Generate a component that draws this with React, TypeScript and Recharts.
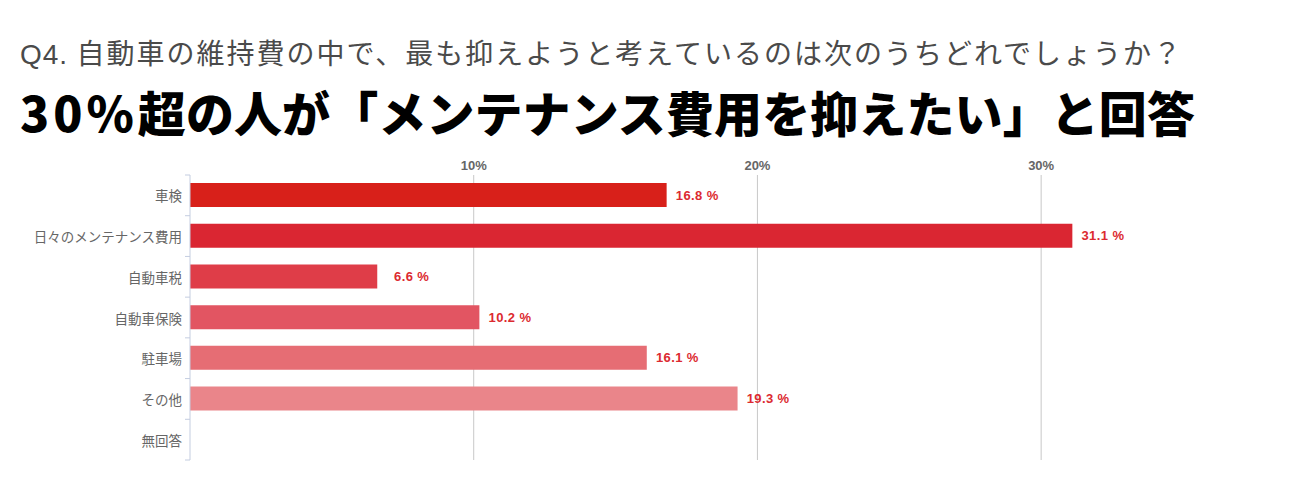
import React from 'react';
import { BarChart, Bar, XAxis, YAxis, CartesianGrid, Cell, LabelList } from 'recharts';

const categories = ['車検', '日々のメンテナンス費用', '自動車税', '自動車保険', '駐車場', 'その他', '無回答'];
const values: (number | null)[] = [16.8, 31.1, 6.6, 10.2, 16.1, 19.3, null];
const xTicks = [10, 20, 30];
const xDomain = [0, 35];
const barColors = ['#d8201a', '#da2632', '#df3d48', '#e25562', '#e66d74', '#ea858a', '#ee9ca0'];
const titlePrefix = 'Q4.';
const titleRest = ' 自動車の維持費の中で、最も抑えようと考えているのは次のうちどれでしょうか？';
const headlinePrefix = '30%';
const headlineRest = '超の人が「メンテナンス費用を抑えたい」と回答';

const data = categories.map((name, i) => ({ name, value: values[i] }));

const JP = '"Noto Sans CJK JP", "Noto Sans", sans-serif';
const LAT = '"Liberation Sans", Arial, sans-serif';

const renderValueLabel = (props: any) => {
  const { x, y, width, height, value } = props;
  if (value === null || value === undefined) return null;
  return (
    <text
      x={Number(x) + Number(width) + 52}
      y={Number(y) + Number(height) / 2}
      textAnchor="end"
      dominantBaseline="central"
      fill="#dc2a30"
      fontFamily={LAT}
      fontWeight={700}
      fontSize={13}
      letterSpacing={0.4}
    >
      {`${value} %`}
    </text>
  );
};

const XTick = (props: any) => {
  const { x, y, payload } = props;
  return (
    <text x={x} y={y} dy={3} textAnchor="middle" fill="#666" fontFamily={LAT} fontWeight={700} fontSize={13}>
      {`${payload.value}%`}
    </text>
  );
};

const YTick = (props: any) => {
  const { x, y, payload, index } = props;
  const half = payload && payload.offset ? payload.offset : 285 / 14;
  const axisX = Number(x) + 8;
  return (
    <g>
      <line x1={axisX - 5} x2={axisX} y1={y - half} y2={y - half} stroke="#c4cde0" />
      {index === categories.length - 1 && (
        <line x1={axisX - 5} x2={axisX} y1={y + half} y2={y + half} stroke="#c4cde0" />
      )}
      <text x={x} y={y} textAnchor="end" dominantBaseline="central" fill="#666" fontFamily={JP} fontSize={13.5}>
        {payload.value}
      </text>
    </g>
  );
};

const gridGenerator = (props: any) => {
  const off = props && props.offset;
  if (!off || typeof off.left !== 'number') return [];
  return xTicks.map((t) => off.left + (off.width * (t - xDomain[0])) / (xDomain[1] - xDomain[0]));
};

export default function App() {
  return (
    <div style={{ position: 'absolute', left: 0, top: 0, width: 1300, height: 500, background: '#fff', overflow: 'hidden' }}>
      <div
        style={{
          position: 'absolute', left: 20, top: 38, fontFamily: JP, fontSize: 28, lineHeight: '28px',
          color: '#4a4a4a', whiteSpace: 'nowrap', letterSpacing: 2.0,
        }}
      >
        <span style={{ fontFamily: LAT, letterSpacing: 1 }}>{titlePrefix}</span>
        {titleRest}
      </div>
      <div
        style={{
          position: 'absolute', left: 20, top: 87, fontFamily: JP, fontSize: 48, lineHeight: '48px',
          fontWeight: 900, color: '#000', whiteSpace: 'nowrap', letterSpacing: 0.1,
        }}
      >
        <span style={{ letterSpacing: 4 }}>{headlinePrefix}</span>
        {headlineRest}
      </div>
      <div style={{ position: 'absolute', left: 0, top: 0 }}>
        <BarChart
          width={1300}
          height={500}
          data={data}
          layout="vertical"
          margin={{ top: 145, right: 117, bottom: 40, left: 0 }}
        >
          <CartesianGrid horizontal={false} vertical={true} stroke="#c8c8c8" verticalCoordinatesGenerator={gridGenerator} />
          <XAxis
            type="number"
            orientation="top"
            domain={xDomain}
            ticks={xTicks}
            height={30}
            axisLine={false}
            tickLine={false}
            tick={<XTick />}
            interval={0}
          />
          <YAxis
            type="category"
            dataKey="name"
            width={190}
            axisLine={{ stroke: '#c4cde0' }}
            tickLine={false}
            tick={<YTick />}
            interval={0}
          />
          <Bar dataKey="value" barSize={24} isAnimationActive={false}>
            {data.map((d, i) => (
              <Cell key={d.name} fill={barColors[i]} />
            ))}
            <LabelList dataKey="value" content={renderValueLabel} />
          </Bar>
        </BarChart>
      </div>
    </div>
  );
}
